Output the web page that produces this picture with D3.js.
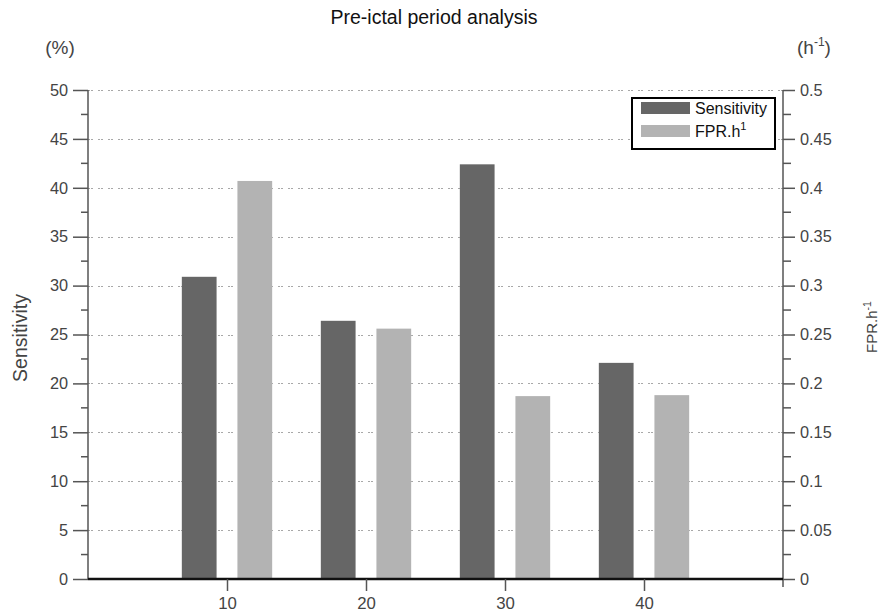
<!DOCTYPE html>
<html>
<head>
<meta charset="utf-8">
<script src="https://cdn.jsdelivr.net/npm/d3@7"></script>
<style>
  html, body { margin: 0; padding: 0; background: #fff; }
  svg { display: block; font-family: "Liberation Sans", Arial, Helvetica, sans-serif; }
</style>
</head>
<body>
<svg id="chart" width="880" height="615"></svg>
<script>
// ---- data ----
const categories = [10, 20, 30, 40];
const sensitivity = [30.9, 26.4, 42.4, 22.1];      // %
const fpr = [0.407, 0.256, 0.187, 0.188];          // h^-1
const leftTicks = [0, 5, 10, 15, 20, 25, 30, 35, 40, 45, 50];
const rightTicks = [0, 0.05, 0.1, 0.15, 0.2, 0.25, 0.3, 0.35, 0.4, 0.45, 0.5];
const xTicks = [10, 20, 30, 40];
const seriesNames = ["Sensitivity", "FPR.h"];

(function () {
// ---- layout ----
const svg = d3.select("#chart");
const pL = 88, pR = 783, pT = 90, pB = 579;
const x = d3.scaleLinear().domain([0, 50]).range([pL, pR]);
const y = d3.scaleLinear().domain([0, 50]).range([pB, pT]);
const y2 = d3.scaleLinear().domain([0, 0.5]).range([pB, pT]);
const darkCol = "#666666", lightCol = "#b3b3b3", axisCol = "#555555", textCol = "#444444";
const barW = x(2.5) - x(0);
const offset = 2;
const tickFont = 16.3;

// grid lines (dotted)
svg.append("g").selectAll("line").data(leftTicks.filter(d => d > 0)).join("line")
  .attr("x1", pL).attr("x2", pR)
  .attr("y1", d => Math.round(y(d)) + 0.5).attr("y2", d => Math.round(y(d)) + 0.5)
  .attr("stroke", "#a8a8a8").attr("stroke-width", 1)
  .attr("stroke-dasharray", "2,1,2,5");

// bars
svg.append("g").selectAll("rect").data(categories).join("rect")
  .attr("x", (d) => x(d - offset) - barW / 2)
  .attr("width", barW)
  .attr("y", (d, i) => y(sensitivity[i]))
  .attr("height", (d, i) => pB - y(sensitivity[i]))
  .attr("fill", darkCol);
svg.append("g").selectAll("rect").data(categories).join("rect")
  .attr("x", (d) => x(d + offset) - barW / 2)
  .attr("width", barW)
  .attr("y", (d, i) => y2(fpr[i]))
  .attr("height", (d, i) => pB - y2(fpr[i]))
  .attr("fill", lightCol);

// left axis
const leftAxis = d3.axisLeft(y).tickValues(leftTicks).tickSize(15).tickPadding(5).tickFormat(d3.format("d"));
const gL = svg.append("g").attr("transform", `translate(${pL},0)`).call(leftAxis);
gL.select(".domain").attr("stroke", axisCol).attr("stroke-width", 1.5).attr("d", `M0,${pT}V${pB}`);
gL.selectAll(".tick line").attr("stroke", axisCol).attr("stroke-width", 1.5);
gL.selectAll(".tick text").attr("fill", textCol).attr("font-size", tickFont).attr("font-family", "Liberation Sans, Arial, sans-serif");
// left minor ticks
const minorL = d3.range(0, 10).map(i => i * 5 + 2.5);
svg.append("g").selectAll("line").data(minorL).join("line")
  .attr("x1", pL - 7).attr("x2", pL)
  .attr("y1", d => y(d)).attr("y2", d => y(d))
  .attr("stroke", axisCol).attr("stroke-width", 1.5);

// right axis
const rightAxis = d3.axisRight(y2).tickValues(rightTicks).tickSize(12).tickPadding(5).tickFormat(d => String(+d.toFixed(2)));
const gR = svg.append("g").attr("transform", `translate(${pR},0)`).call(rightAxis);
gR.select(".domain").attr("stroke", axisCol).attr("stroke-width", 1.5).attr("d", `M0,${pT}V${pB + 8}`);
gR.selectAll(".tick line").attr("stroke", axisCol).attr("stroke-width", 1.5);
gR.selectAll(".tick text").attr("fill", textCol).attr("font-size", tickFont).attr("font-family", "Liberation Sans, Arial, sans-serif");
const minorR = d3.range(0, 10).map(i => i * 0.05 + 0.025);
svg.append("g").selectAll("line").data(minorR).join("line")
  .attr("x1", pR).attr("x2", pR + 8)
  .attr("y1", d => y2(d)).attr("y2", d => y2(d))
  .attr("stroke", axisCol).attr("stroke-width", 1.5);

// bottom axis
const bottomAxis = d3.axisBottom(x).tickValues(xTicks).tickSize(12).tickPadding(6).tickFormat(d3.format("d"));
const gB = svg.append("g").attr("transform", `translate(0,${pB})`).call(bottomAxis);
gB.select(".domain").attr("stroke", "#111").attr("stroke-width", 2.5).attr("d", `M${pL},0H${pR}`);
gB.selectAll(".tick line").attr("stroke", axisCol).attr("stroke-width", 1.5);
gB.selectAll(".tick text").attr("fill", textCol).attr("font-size", 16.8).attr("font-family", "Liberation Sans, Arial, sans-serif");

// title
svg.append("text").attr("x", 434).attr("y", 24).attr("text-anchor", "middle")
  .attr("font-size", 19.5).attr("fill", "#111").text("Pre-ictal period analysis");

// unit labels
svg.append("text").attr("x", 60).attr("y", 54).attr("text-anchor", "middle")
  .attr("font-size", 19).attr("fill", textCol).text("(%)");
const hu = svg.append("text").attr("x", 797).attr("y", 54)
  .attr("font-size", 19).attr("fill", textCol);
hu.append("tspan").text("(h");
hu.append("tspan").attr("dy", -8).attr("font-size", 12).text("-1");
hu.append("tspan").attr("dy", 8).text(")");

// axis titles
svg.append("text").attr("transform", "translate(27,338) rotate(-90)").attr("text-anchor", "middle")
  .attr("font-size", 19.5).attr("fill", textCol).text("Sensitivity");
const ft = svg.append("text").attr("transform", "translate(877,327) rotate(-90)").attr("text-anchor", "middle")
  .attr("font-size", 15).attr("fill", textCol);
ft.append("tspan").text("FPR.h");
ft.append("tspan").attr("dy", -6).attr("font-size", 10.5).text("-1");

// legend
const lg = svg.append("g");
lg.append("rect").attr("x", 632).attr("y", 98).attr("width", 143).attr("height", 51)
  .attr("fill", "#fff").attr("stroke", "#000").attr("stroke-width", 2);
lg.append("rect").attr("x", 641).attr("y", 102).attr("width", 49).attr("height", 12).attr("fill", darkCol);
lg.append("rect").attr("x", 641).attr("y", 125).attr("width", 49).attr("height", 12).attr("fill", lightCol);
lg.append("text").attr("x", 695).attr("y", 114).attr("font-size", 16).attr("fill", "#111").text(seriesNames[0]);
const l2 = lg.append("text").attr("x", 695).attr("y", 137).attr("font-size", 16).attr("fill", "#111");
l2.append("tspan").text(seriesNames[1]);
l2.append("tspan").attr("dx", 0).attr("dy", -7).attr("font-size", 11).text("1");
})();
</script>
</body>
</html>
